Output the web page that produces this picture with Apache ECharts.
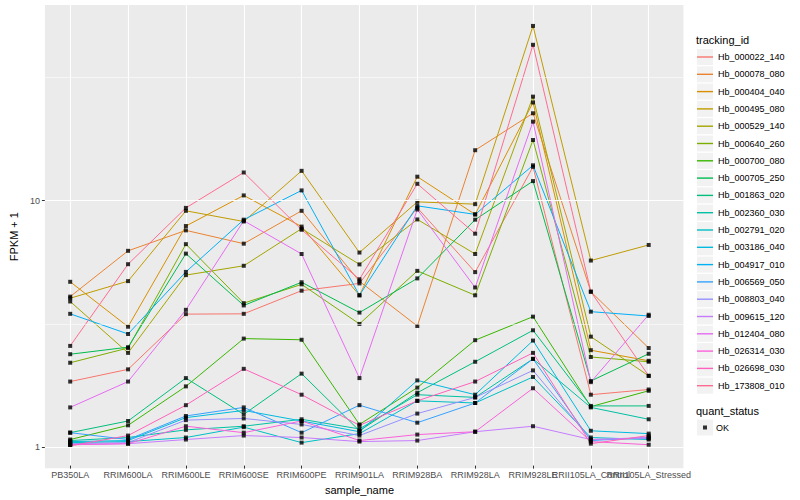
<!DOCTYPE html>
<html><head><meta charset="utf-8">
<script src="https://cdn.jsdelivr.net/npm/echarts@6/dist/echarts.min.js"></script>
<style>html,body{margin:0;padding:0;background:#fff}#c{width:800px;height:500px}</style>
</head><body><div id="c"></div>
<script>
const categories = ['PB350LA','RRIM600LA','RRIM600LE','RRIM600SE','RRIM600PE','RRIM901LA','RRIM928BA','RRIM928LA','RRIM928LE','RRII105LA_Control','RRII105LA_Stressed'];

const Hb_000022_140 = [1.81, 2.03, 3.41, 3.42, 4.25, 4.55, 9.26, 5.06, 13.6, 1.60, 1.68];
const Hb_000078_080 = [4.02, 6.18, 7.49, 6.61, 9.00, 4.64, 3.05, 15.9, 22.5, 4.21, 2.48];
const Hb_000404_040 = [4.62, 3.03, 7.80, 10.4, 7.76, 4.07, 12.4, 8.70, 24.9, 2.43, 2.20];
const Hb_000495_080 = [3.96, 4.65, 9.00, 8.14, 13.1, 6.08, 9.79, 9.58, 51.1, 5.64, 6.53];
const Hb_000529_140 = [3.84, 2.37, 4.92, 5.37, 7.61, 5.44, 8.30, 6.00, 26.3, 2.76, 1.91];
const Hb_000640_260 = [2.16, 2.48, 6.58, 3.78, 4.51, 3.11, 5.12, 4.07, 17.5, 2.28, 2.18];
const Hb_000700_080 = [1.05, 1.20, 1.73, 2.71, 2.68, 1.21, 1.71, 2.67, 3.33, 1.43, 1.66];
const Hb_000705_250 = [2.34, 2.50, 6.02, 3.70, 4.60, 3.46, 4.77, 8.28, 11.9, 1.82, 2.35];
const Hb_001863_020 = [1.12, 1.25, 1.87, 1.33, 1.95, 1.14, 1.63, 2.18, 2.93, 1.44, 1.44];
const Hb_002360_030 = [1.04, 1.07, 1.15, 1.19, 1.27, 1.16, 1.60, 1.56, 2.24, 1.42, 1.27];
const Hb_002791_020 = [1.02, 1.03, 1.07, 1.18, 1.02, 1.11, 1.51, 1.48, 1.89, 1.07, 1.05];
const Hb_003186_040 = [1.03, 1.04, 1.29, 1.38, 1.25, 1.13, 1.83, 1.60, 2.66, 1.14, 1.11];
const Hb_004917_010 = [3.42, 2.83, 5.07, 8.28, 10.9, 4.07, 9.43, 8.70, 13.8, 3.49, 3.35];
const Hb_006569_050 = [1.12, 1.05, 1.31, 1.42, 1.12, 1.45, 1.23, 1.48, 2.24, 1.04, 1.07];
const Hb_008803_040 = [1.01, 1.02, 1.26, 1.28, 1.21, 1.09, 1.34, 1.56, 2.01, 1.05, 1.06];
const Hb_009615_120 = [1.00, 1.01, 1.05, 1.09, 1.07, 1.03, 1.04, 1.13, 1.19, 1.05, 1.07];
const Hb_012404_080 = [1.42, 1.81, 3.55, 8.20, 6.00, 1.87, 9.11, 4.38, 20.8, 1.80, 3.39];
const Hb_026314_030 = [1.00, 1.01, 1.19, 1.12, 1.25, 1.04, 1.10, 1.13, 1.70, 1.03, 1.00];
const Hb_026698_030 = [0.99, 1.09, 1.45, 2.04, 1.60, 1.20, 1.51, 1.81, 2.37, 1.01, 1.09];
const Hb_173808_010 = [2.53, 5.45, 9.25, 12.9, 7.53, 4.73, 11.6, 7.26, 42.8, 4.21, 1.91];

const trackingIds = ['Hb_000022_140','Hb_000078_080','Hb_000404_040','Hb_000495_080','Hb_000529_140','Hb_000640_260','Hb_000700_080','Hb_000705_250','Hb_001863_020','Hb_002360_030','Hb_002791_020','Hb_003186_040','Hb_004917_010','Hb_006569_050','Hb_008803_040','Hb_009615_120','Hb_012404_080','Hb_026314_030','Hb_026698_030','Hb_173808_010'];
const seriesValues = [Hb_000022_140, Hb_000078_080, Hb_000404_040, Hb_000495_080, Hb_000529_140, Hb_000640_260, Hb_000700_080, Hb_000705_250, Hb_001863_020, Hb_002360_030, Hb_002791_020, Hb_003186_040, Hb_004917_010, Hb_006569_050, Hb_008803_040, Hb_009615_120, Hb_012404_080, Hb_026314_030, Hb_026698_030, Hb_173808_010];
const quantStatus = ['OK'];

const yMajorTicks = [1, 10];
const yMinorTicks = [3.1623, 31.623];
const yRange = [0.822, 62.2];

const palette = ['#F8766D','#EA8331','#D89000','#C09B00','#A3A500','#7CAE00','#39B600','#00BB4E','#00BF7D','#00C1A3','#00BFC4','#00BAE0','#00B0F6','#35A2FF','#9590FF','#C77CFF','#E76BF3','#FA62DB','#FF62BC','#FF6C91'];
const FONT = '"Liberation Sans", Arial, sans-serif';

const chart = echarts.init(document.getElementById('c'), null, {renderer: 'svg'});

const lineSeries = trackingIds.map((id, i) => ({
  name: id, type: 'line', xAxisIndex: 1, yAxisIndex: 1,
  data: seriesValues[i], showSymbol: false, symbol: 'none', silent: true, z: 2,
  lineStyle: {width: 1, color: palette[i]}, itemStyle: {color: palette[i]}
}));

const pointData = [];
seriesValues.forEach(vals => vals.forEach((v, j) => pointData.push([j, v])));

const keyBoxes = [];
for (let i = 0; i < trackingIds.length; i++) {
  keyBoxes.push({type: 'rect', left: 697, top: 49 + i * 17.3, shape: {width: 16, height: 16}, style: {fill: '#F2F2F2'}, silent: true});
}
keyBoxes.push({type: 'rect', left: 697, top: 419.5, shape: {width: 16, height: 16}, style: {fill: '#F2F2F2'}, silent: true});

const option = {
  animation: false,
  textStyle: {fontFamily: FONT},
  title: [
    {text: 'tracking_id', left: 696, top: 34, padding: 0, textStyle: {fontSize: 11, fontWeight: 'normal', color: '#000', fontFamily: FONT}},
    {text: 'quant_status', left: 696, top: 405, padding: 0, textStyle: {fontSize: 11, fontWeight: 'normal', color: '#000', fontFamily: FONT}}
  ],
  graphic: keyBoxes,
  grid: [
    {left: 35.5, right: 116.6, top: 5, bottom: 31.7, show: true, backgroundColor: '#EBEBEB', borderWidth: 0},
    {left: 70.2, right: 151.3, top: 5, bottom: 31.7}
  ],
  xAxis: [
    {gridIndex: 0, type: 'value', min: 0, max: 1, show: false},
    {gridIndex: 1, type: 'category', data: categories, boundaryGap: false,
      axisLine: {show: false},
      axisTick: {show: true, interval: 0, length: 3, lineStyle: {color: '#333333', width: 1}},
      axisLabel: {interval: 0, margin: 4.5, color: '#4D4D4D', fontSize: 9, fontFamily: FONT},
      splitLine: {show: true, interval: 0, lineStyle: {color: '#FFFFFF', width: 1.1}},
      name: 'sample_name', nameLocation: 'middle', nameGap: 11,
      nameTextStyle: {color: '#000', fontSize: 11, fontFamily: FONT}}
  ],
  yAxis: [
    {gridIndex: 0, type: 'log', logBase: 10, min: yRange[0], max: yRange[1],
      axisLine: {show: false},
      axisTick: {show: true, length: 3, customValues: yMajorTicks, lineStyle: {color: '#333333', width: 1}},
      axisLabel: {customValues: yMajorTicks, color: '#4D4D4D', fontSize: 9, margin: 5, fontFamily: FONT, formatter: v => String(v)},
      splitLine: {show: false}, minorSplitLine: {show: false},
      name: 'FPKM + 1', nameLocation: 'middle', nameGap: 18, nameRotate: 90,
      nameTextStyle: {color: '#000', fontSize: 11, fontFamily: FONT}},
    {gridIndex: 1, type: 'log', logBase: 10, min: yRange[0], max: yRange[1], show: false}
  ],
  legend: [
    {orient: 'vertical', left: 697, top: 51, padding: 0, itemWidth: 16, itemHeight: 1.4, itemGap: 5.3,
      icon: 'rect', selectedMode: false, data: trackingIds,
      textStyle: {fontSize: 9, lineHeight: 12, color: '#000', fontFamily: FONT}},
    {orient: 'vertical', left: 703, top: 421.5, padding: 0, itemWidth: 4, itemHeight: 4,
      icon: 'rect', selectedMode: false, data: quantStatus,
      textStyle: {fontSize: 9, lineHeight: 12, color: '#000', fontFamily: FONT, padding: [0, 0, 0, 4]}}
  ],
  series: [
    {type: 'line', xAxisIndex: 0, yAxisIndex: 0, data: [], silent: true, z: 1,
      markLine: {silent: true, symbol: 'none', animation: false, label: {show: false},
        data: yMajorTicks.map(v => ({yAxis: v, lineStyle: {color: '#FFFFFF', width: 1.1, type: 'solid'}}))
          .concat(yMinorTicks.map(v => ({yAxis: v, lineStyle: {color: '#FFFFFF', width: 0.55, type: 'solid'}})))}},
    ...lineSeries,
    {name: 'OK', type: 'scatter', xAxisIndex: 1, yAxisIndex: 1, data: pointData,
      symbol: 'rect', symbolSize: 4, itemStyle: {color: '#000000'}, silent: true, z: 3}
  ]
};
chart.setOption(option);
</script></body></html>
